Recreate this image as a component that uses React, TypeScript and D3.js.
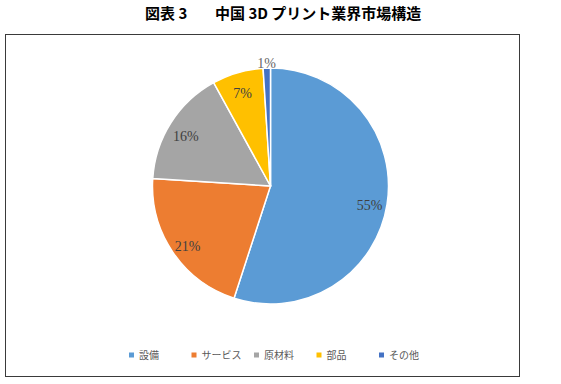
import React from 'react';
import * as d3 from 'd3';

// 中国 3D プリント業界市場構造 (単位: %)
const categories = ['設備', 'サービス', '原材料', '部品', 'その他'];
const shares = [55, 21, 16, 7, 1];
const colors = ['#5B9BD5', '#ED7D31', '#A5A5A5', '#FFC000', '#4472C4'];
const titleLead = '図表 3';
const titleMain = '中国 3D プリント業界市場構造';

const width = 561;
const height = 384;

const App = () => {
  const cx = 270.5;
  const cy = 186;
  const radius = 118;

  const data = categories.map((name, i) => ({ name, value: shares[i], color: colors[i] }));

  const pie = d3.pie<any>()
    .value(d => d.value)
    .sort(null);

  const arcs = pie(data);

  const arc = d3.arc<any>()
    .innerRadius(0)
    .outerRadius(radius);

  // ラベル位置 (小さい扇は外側へ)
  const labelArc = d3.arc<any>().innerRadius(radius * 0.85).outerRadius(radius * 0.85);
  const outerLabelArc = d3.arc<any>().innerRadius(radius + 5).outerRadius(radius + 5);

  // 凡例
  const legendX = d3.scalePoint<string>()
    .domain(categories)
    .range([129, 379]);

  return (
    <div style={{ position: 'fixed', left: 0, top: 0 }}>
      <svg width={width} height={height} style={{ display: 'block', background: '#fff' }}>
        <text
          y={19}
          fontFamily="'Noto Sans CJK JP', sans-serif"
          fontWeight="bold"
          fontSize={15}
          fill="#000"
        >
          <tspan x={145}>{titleLead}</tspan>
          <tspan x={215}>{titleMain}</tspan>
        </text>

        <rect x={5.5} y={34.5} width={514} height={342} fill="#fff" stroke="#3a3a3a" strokeWidth={1} />

        <g transform={`translate(${cx},${cy})`}>
          {arcs.map((a, i) => (
            <path key={i} d={arc(a) || ''} fill={a.data.color} stroke="#fff" strokeWidth={1.5} />
          ))}
          {arcs.map((a, i) => {
            const small = a.data.value < 3;
            const [lx, ly] = small ? outerLabelArc.centroid(a) : labelArc.centroid(a);
            return (
              <text
                key={'l' + i}
                x={lx}
                y={ly}
                dy={small ? '0.35em' : '0.6em'}
                textAnchor="middle"
                fontFamily="'Liberation Serif', serif"
                fontSize={14}
                fill={small ? '#666666' : '#404040'}
              >
                {a.data.value}%
              </text>
            );
          })}
        </g>

        <g>
          {data.map((d, i) => (
            <g key={i} transform={`translate(${legendX(d.name)},355)`}>
              <rect x={0} y={-2.5} width={5} height={5} fill={d.color} />
              <text
                x={10}
                dy="0.35em"
                fontFamily="'Noto Sans CJK JP', sans-serif"
                fontSize={10}
                fill="#595959"
              >
                {d.name}
              </text>
            </g>
          ))}
        </g>
      </svg>
    </div>
  );
};

export default App;
